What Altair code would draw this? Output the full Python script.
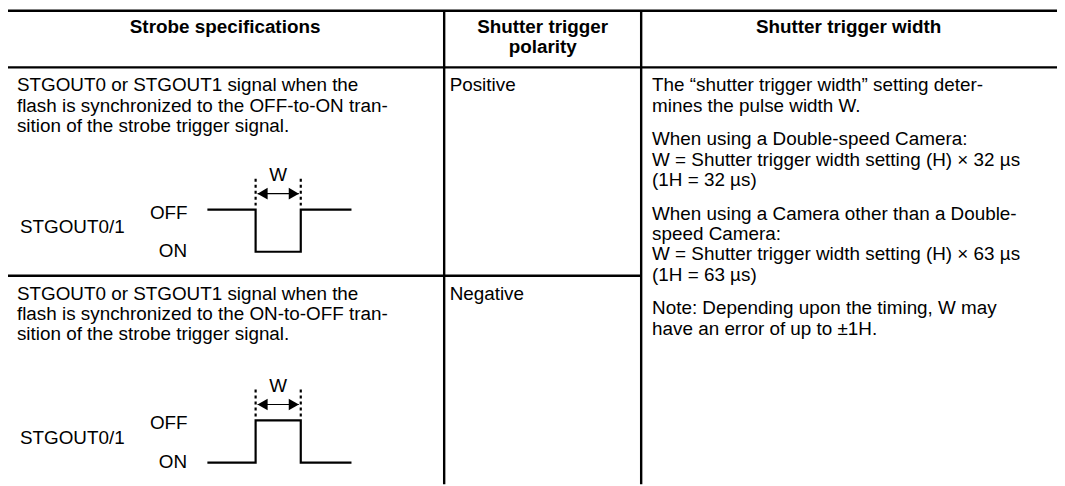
import altair as alt
import pandas as pd

# ---------------- data (reference pixel space) ----------------
# table frame
COL_LINES_X = [6, 447.5, 646]          # left border, col1|col2, col2|col3
TABLE_TOP = 9
HEADER_BOTTOM = 66
ROW_DIVIDER = 276
PAGE_RIGHT = 1065
PAGE_BOTTOM = 486

# header texts
HEADER_TEXT = ["Strobe specifications", "Shutter trigger", "polarity", "Shutter trigger width"]
HEADER_X = [226.75, 546.75, 546.75, 855]
HEADER_BASE = [31.5, 31.5, 51.5, 31.5]

# body texts (one entry per printed line)
ROW1_COL1 = ["STGOUT0 or STGOUT1 signal when the",
             "flash is synchronized to the OFF-to-ON tran-",
             "sition of the strobe trigger signal."]
ROW2_COL1 = ["STGOUT0 or STGOUT1 signal when the",
             "flash is synchronized to the ON-to-OFF tran-",
             "sition of the strobe trigger signal."]
ROW1_COL2 = ["Positive"]
ROW2_COL2 = ["Negative"]
COL3_PARAS = [
    ["The \u201cshutter trigger width\u201d setting deter-",
     "mines the pulse width W."],
    ["When using a Double-speed Camera:",
     "W = Shutter trigger width setting (H) \u00d7 32 \u00b5s",
     "(1H = 32 \u00b5s)"],
    ["When using a Camera other than a Double-",
     "speed Camera:",
     "W = Shutter trigger width setting (H) \u00d7 63 \u00b5s",
     "(1H = 63 \u00b5s)"],
    ["Note: Depending upon the timing, W may",
     "have an error of up to \u00b11H."],
]
TEXT_X = [17, 453, 657]
ROW1_BASE = 90
ROW2_BASE = 300
LINE_STEP = 20.5
PARA_STEP = 34

# timing diagrams
DIAGRAM_HIGH_Y = [209.3, 421.7]        # y of the OFF level in each row
LEVEL_DROP = {"OFF": 0.0, "ON": 42.5}
SIG_X = [210, 257.5, 257.5, 303, 303, 353]
SIG_LEVELS = [["OFF", "OFF", "ON", "ON", "OFF", "OFF"],
              ["ON", "ON", "OFF", "OFF", "ON", "ON"]]
EDGE_X = [257.5, 303]
LABEL_NAME = "STGOUT0/1"

FONT = "Liberation Sans"
FS = 19
FS_HEAD = 19

# ---------------- build tables ----------------
hl = pd.DataFrame({
    "x": [COL_LINES_X[0], COL_LINES_X[0], COL_LINES_X[0]],
    "x2": [PAGE_RIGHT, PAGE_RIGHT, COL_LINES_X[2]],
    "y": [TABLE_TOP, HEADER_BOTTOM, ROW_DIVIDER],
})
vl = pd.DataFrame({"x": COL_LINES_X, "y": [TABLE_TOP] * 3, "y2": [PAGE_BOTTOM] * 3})

hdr = pd.DataFrame({"x": HEADER_X, "y": HEADER_BASE, "t": HEADER_TEXT})

body_rows = []
for base, lines in ((ROW1_BASE, ROW1_COL1), (ROW2_BASE, ROW2_COL1)):
    for i, s in enumerate(lines):
        body_rows.append((TEXT_X[0], base + i * LINE_STEP, s))
for base, lines in ((ROW1_BASE, ROW1_COL2), (ROW2_BASE, ROW2_COL2)):
    for i, s in enumerate(lines):
        body_rows.append((TEXT_X[1], base + i * LINE_STEP, s))
y = ROW1_BASE
for para in COL3_PARAS:
    for i, s in enumerate(para):
        body_rows.append((TEXT_X[2], y + i * LINE_STEP, s))
    y += (len(para) - 1) * LINE_STEP + PARA_STEP
body = pd.DataFrame(body_rows, columns=["x", "y", "t"])

wave_rows, dash_rows, shaft_rows, head_rows, lab_rows, wlab_rows = [], [], [], [], [], []
for d, hy in enumerate(DIAGRAM_HIGH_Y):
    for i, (sx, lv) in enumerate(zip(SIG_X, SIG_LEVELS[d])):
        wave_rows.append((d, i, sx, hy + LEVEL_DROP[lv]))
    for ex in EDGE_X:
        dash_rows.append((ex, hy - 31, hy - 4))
    shaft_rows.append((EDGE_X[0] + 2, EDGE_X[1] - 2, hy - 16))
    head_rows.append((EDGE_X[0] + 7, hy - 16, "triangle-left"))
    head_rows.append((EDGE_X[1] - 7, hy - 16, "triangle-right"))
    wlab_rows.append(((EDGE_X[0] + EDGE_X[1]) / 2, hy - 28.5, "W"))
    lab_rows.append((20, hy + 24, LABEL_NAME))
    lab_rows.append((151, hy + 9, "OFF"))
    lab_rows.append((160, hy + LEVEL_DROP["ON"] + 5, "ON"))
wave = pd.DataFrame(wave_rows, columns=["d", "i", "x", "y"])
dash = pd.DataFrame(dash_rows, columns=["x", "y", "y2"])
shaft = pd.DataFrame(shaft_rows, columns=["x", "x2", "y"])
heads = pd.DataFrame(head_rows, columns=["x", "y", "shape"])
labs = pd.DataFrame(lab_rows, columns=["x", "y", "t"])
wlabs = pd.DataFrame(wlab_rows, columns=["x", "y", "t"])

# ---------------- chart ----------------
XS = alt.Scale(domain=[8, PAGE_RIGHT], nice=False, zero=False)
YS = alt.Scale(domain=[8, PAGE_BOTTOM], nice=False, zero=False, reverse=True)
X = lambda f="x": alt.X(f + ":Q", scale=XS, axis=None)
Y = lambda f="y": alt.Y(f + ":Q", scale=YS, axis=None)

frame_h = alt.Chart(hl).mark_rule(color="black", strokeWidth=2.4).encode(
    x=X(), x2="x2", y=Y())
frame_v = alt.Chart(vl).mark_rule(color="black", strokeWidth=2.4).encode(
    x=X(), y=Y(), y2="y2")

header = alt.Chart(hdr).mark_text(font=FONT, fontSize=FS_HEAD, fontWeight="bold",
                                  align="center", baseline="alphabetic",
                                  color="black").encode(x=X(), y=Y(), text="t:N")
bodyt = alt.Chart(body).mark_text(font=FONT, fontSize=FS, align="left",
                                  baseline="alphabetic", color="black").encode(
    x=X(), y=Y(), text="t:N")

waves = alt.Chart(wave).mark_line(color="black", strokeWidth=2.2,
                                  strokeJoin="miter", strokeCap="square").encode(
    x=X(), y=Y(), detail="d:N", order="i:Q")
dashes = alt.Chart(dash).mark_rule(color="black", strokeWidth=2.2,
                                   strokeDash=[3, 3]).encode(x=X(), y=Y(), y2="y2")
shafts = alt.Chart(shaft).mark_rule(color="black", strokeWidth=1.2).encode(
    x=X(), x2="x2", y=Y())
arrowheads = alt.Chart(heads).mark_point(filled=True, color="black", size=140,
                                         opacity=1).encode(
    x=X(), y=Y(), shape=alt.Shape("shape:N", scale=None))
labels = alt.Chart(labs).mark_text(font=FONT, fontSize=FS, align="left",
                                   baseline="alphabetic", color="black").encode(
    x=X(), y=Y(), text="t:N")
wlabels = alt.Chart(wlabs).mark_text(font=FONT, fontSize=FS, align="center",
                                     baseline="alphabetic", color="black").encode(
    x=X(), y=Y(), text="t:N")

chart = alt.layer(frame_h, frame_v, header, bodyt, waves, dashes, shafts,
                  arrowheads, labels, wlabels).properties(
    width=PAGE_RIGHT - 8, height=PAGE_BOTTOM - 8,
    autosize=alt.AutoSizeParams(type="none"), padding=0,
    background="white",
).configure_view(stroke=None)

chart.save("out.html", embed_options={"renderer": "svg", "actions": False})
